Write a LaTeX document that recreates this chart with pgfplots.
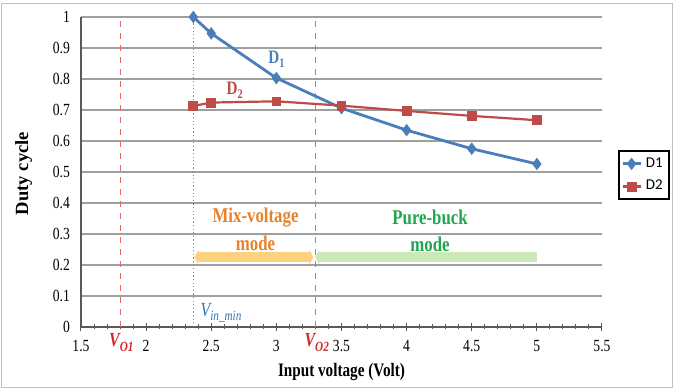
\documentclass[border=0pt]{standalone}
\usepackage{fontspec}
\setmainfont{Liberation Serif}[FakeStretch=0.8]
\newfontfamily\ylabfont{Liberation Serif}
\newfontfamily\legfont{Carlito}
\usepackage{pgfplots}
\pgfplotsset{compat=1.18}
\usetikzlibrary{arrows.meta}
\definecolor{dblue}{HTML}{4A7EBB}
\definecolor{dred}{HTML}{BE4B48}
\definecolor{vred}{HTML}{D42A2A}
\definecolor{vblue}{HTML}{2E75B6}
\definecolor{morange}{HTML}{E8822A}
\definecolor{mgreen}{HTML}{22A550}
\definecolor{byellow}{HTML}{FDD27F}
\definecolor{bgreen}{HTML}{CDE8B8}
\begin{document}
\begin{tikzpicture}
\begin{axis}[
  scale only axis, width=260.5pt, height=155pt,
  xmin=1.5, xmax=5.5, ymin=0, ymax=1,
  axis lines=left,
  axis line style={-, draw=gray!70!black, line width=0.6pt},
  xtick={1.5,2,2.5,3,3.5,4,4.5,5,5.5},
  minor x tick num=4,
  tick align=center,
  major tick length=4pt, minor tick length=2.5pt,
  xtick style={draw=gray!70!black, line width=0.5pt},
  ytick={0,0.1,0.2,0.3,0.4,0.5,0.6,0.7,0.8,0.9,1},
  ytick style={draw=none},
  ymajorgrids,
  grid style={draw=gray!75, line width=0.6pt},
  /pgf/number format/assume math mode=true,
  tick label style={font=\fontsize{8.5}{9}\selectfont},
  xticklabel style={yshift=-1pt},
  xlabel={\bfseries Input voltage (Volt)},
  ylabel={\ylabfont\bfseries Duty cycle},
  xlabel style={at={(axis description cs:0.5,-0.145)}, anchor=center, font=\fontsize{9.5}{10}\selectfont},
  ylabel style={at={(axis description cs:-0.11,0.495)}, anchor=center, font=\fontsize{9.3}{10}\selectfont},
  clip=false,
  legend style={at={(axis description cs:1.0307,0.57)}, anchor=north west,
    draw=black, line width=0.8pt, font=\legfont\fontsize{7.5}{8}\selectfont,
    inner sep=1.2pt, row sep=1pt, cells={anchor=west}},
  legend image code/.code={\draw[mark repeat=2,mark phase=2] plot coordinates {(0pt,0pt)(4.5pt,0pt)(9pt,0pt)};},
]
% vertical reference lines
\draw[dashed, vred!70, line width=0.5pt] (axis cs:1.8,0) -- (axis cs:1.8,1);
\draw[dashed, vred!70, line width=0.5pt] (axis cs:3.3,0) -- (axis cs:3.3,1);
\draw[vblue!80, line width=0.6pt, dash pattern=on 0.6pt off 1.2pt] (axis cs:2.362,0) -- (axis cs:2.362,1);

\addplot[color=dblue, line width=1.4pt, mark=diamond*, mark size=2.8pt, mark options={line width=0.4pt}]
coordinates {(2.362,1.0) (2.5,0.947) (3,0.803) (3.5,0.706) (4,0.635) (4.5,0.575) (5,0.526)};
\addlegendentry{D1}
\addplot[color=dred, line width=1.1pt, mark=square*, mark size=2.2pt, mark options={line width=0.4pt}]
coordinates {(2.362,0.713) (2.5,0.724) (3,0.728) (3.5,0.714) (4,0.697) (4.5,0.681) (5,0.667)};
\addlegendentry{D2}

% mode bands
\draw[byellow, line width=4.8pt, {Triangle[length=2pt,width=7pt]}-{Triangle[length=2pt,width=7pt]}] (axis cs:2.37,0.225) -- (axis cs:3.285,0.225);
\draw[bgreen, line width=4.8pt, {Triangle[length=2pt,width=7pt]}-] (axis cs:3.297,0.226) -- (axis cs:5.0,0.226);

\node[text=morange, font=\bfseries\fontsize{10.5}{11}\selectfont] at (axis cs:2.84,0.353) {Mix-voltage};
\node[text=morange, font=\bfseries\fontsize{10.5}{11}\selectfont] at (axis cs:2.84,0.27) {mode};
\node[text=mgreen, font=\bfseries\fontsize{10.5}{11}\selectfont] at (axis cs:4.18,0.355) {Pure-buck};
\node[text=mgreen, font=\bfseries\fontsize{10.5}{11}\selectfont] at (axis cs:4.18,0.268) {mode};

\node[text=dblue, font=\bfseries\fontsize{9.5}{10}\selectfont] at (axis cs:3.0,0.865) {D\raisebox{-0.45ex}{\fontsize{6.5}{7}\selectfont 1}};
\node[text=dred, font=\bfseries\fontsize{9.5}{10}\selectfont] at (axis cs:2.68,0.765) {D\raisebox{-0.45ex}{\fontsize{6.5}{7}\selectfont 2}};

\node[text=vblue, font=\itshape\fontsize{10}{11}\selectfont] at (axis cs:2.575,0.045) {V\raisebox{-0.5ex}{\fontsize{7}{8}\selectfont in\_min}};
\node[text=vred, font=\bfseries\itshape\fontsize{10}{11}\selectfont] at (axis cs:1.81,-0.05) {V\raisebox{-0.5ex}{\fontsize{7}{8}\selectfont O1}};
\node[text=vred, font=\bfseries\itshape\fontsize{10}{11}\selectfont] at (axis cs:3.31,-0.05) {V\raisebox{-0.5ex}{\fontsize{7}{8}\selectfont O2}};
\end{axis}
\draw[gray!50, line width=0.8pt] (-39.75pt,-30.25pt) rectangle (295.75pt,161.75pt);
\pgfresetboundingbox
\path (-40.5pt,-31.5pt) rectangle (297pt,163.5pt);
\end{tikzpicture}
\end{document}
